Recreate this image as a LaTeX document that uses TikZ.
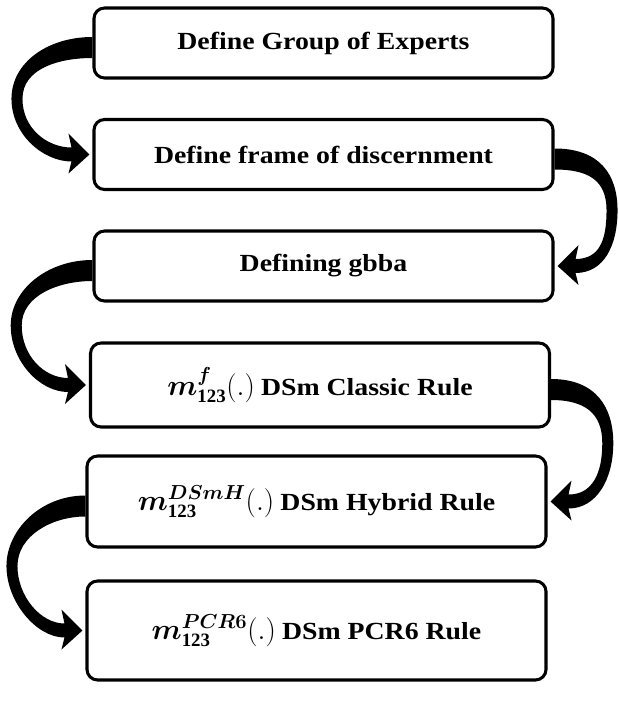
\documentclass[tikz,border=0pt]{standalone}
\usepackage{fontspec}
\setmainfont{Liberation Serif}
\usepackage{amsmath,bm,graphicx}
\usetikzlibrary{calc}
\tikzset{
  stage/.style={draw=black, line width=2.6pt, rounded corners=9pt, fill=white, align=center,
    minimum width=13.77cm, font=\bfseries\fontsize{21}{24}\selectfont},
  sweep/.style={fill=black}
}
% wide bold captions and the mass function m_123 with a superscript
\newcommand{\wide}[1]{\scalebox{1.13}[1]{#1}}
\newcommand{\mass}[1]{{\fontsize{23}{24}\selectfont$\bm{m}^{\bm{#1}}_{\mathbf{123}}(.)$}}

\begin{document}
\begin{tikzpicture}[x=0.03cm, y=-0.03cm]
    \useasboundingbox (0,0) rectangle (618,705);
    \foreach \n/\x/\y/\h/\txt in {s1/323.5/43/70/{\wide{Define Group of Experts}},
        s2/323.5/154.5/70/{\wide{Define frame of discernment}}, s3/323.5/266/70/{\wide{Defining gbba}},
        s4/320/385/84/{\mass{f} \wide{DSm Classic Rule}},
        s5/316.5/501.5/91/{\mass{DSmH} \wide{DSm Hybrid Rule}},
        s6/316.5/630.5/99/{\mass{PCR6} \wide{DSm PCR6 Rule}}}{
      \node[stage, minimum height=\h*0.03cm] (\n) at (\x,\y) {\txt};
    }
    % thick curved arrow from #1 to #2 round side #3 (sign #4), bulge #5
    \def\curv#1#2#3#4#5{\fill[sweep] ($(#1.#3)+(0,-6)$)
        .. controls +(#4*45,0) and +(0,-36) .. ($(#1.#3)!.5!(#2.#3)+(#4*#5,0)$)
        .. controls +(0,36) and +(#4*28,0) .. ($(#2.#3)+(#4*21,7)$)
        -- ($(#2.#3)+(#4*24,19)$) -- ($(#2.#3)+(#4*3,0)$) -- ($(#2.#3)+(#4*24,-21)$)
        -- ($(#2.#3)+(#4*21,-7)$)
        .. controls +(#4*24,0) and +(0,30) .. ($(#1.#3)!.5!(#2.#3)+({#4*#5-#4*11},0)$)
        .. controls +(0,-30) and +(#4*34,0) .. ($(#1.#3)+(0,15)$) -- cycle;}
    \curv{s1}{s2}{west}{-1}{81}
    \curv{s2}{s3}{east}{1}{63}
    \curv{s3}{s4}{west}{-1}{80}
    \curv{s4}{s5}{east}{1}{64}
    \curv{s5}{s6}{west}{-1}{79}
  \end{tikzpicture}
\end{document}
